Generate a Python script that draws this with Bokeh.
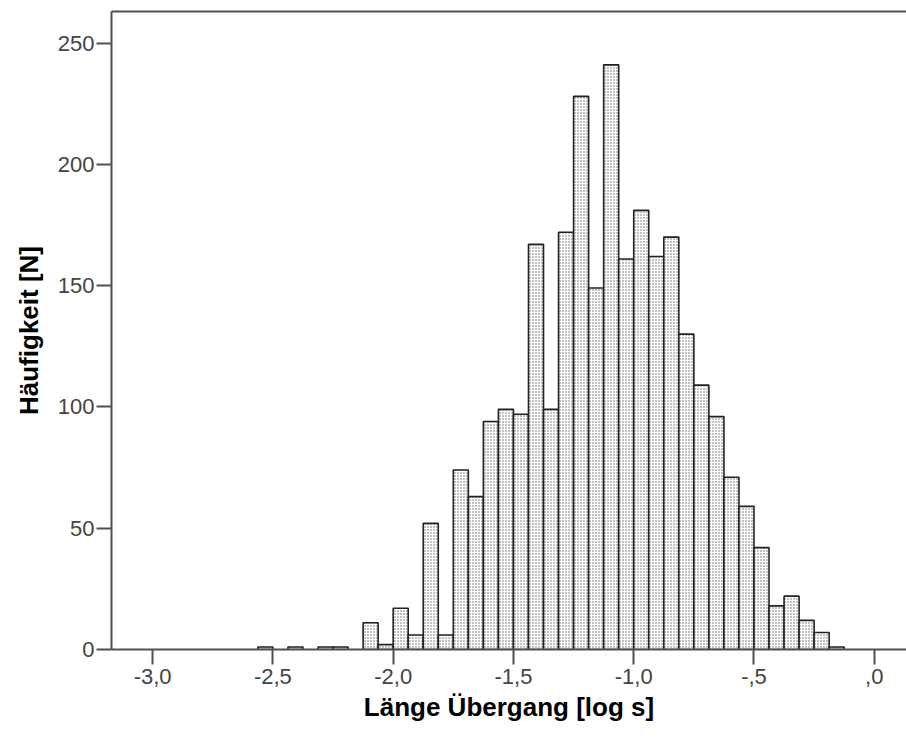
from bokeh.plotting import figure
from bokeh.models import Range1d, FixedTicker, LinearAxis, ColumnDataSource
from bokeh.embed import file_html
from bokeh.resources import INLINE

# histogram data (log10 of transition length), bin width 1/16
bin_width = 0.0625
bin_left = [-2.5625, -2.4375, -2.3125, -2.25, -2.125, -2.0625,
            -2.0, -1.9375, -1.875, -1.8125, -1.75, -1.6875, -1.625, -1.5625,
            -1.5, -1.4375, -1.375, -1.3125, -1.25, -1.1875, -1.125, -1.0625,
            -1.0, -0.9375, -0.875, -0.8125, -0.75, -0.6875, -0.625, -0.5625,
            -0.5, -0.4375, -0.375, -0.3125, -0.25, -0.1875]
counts = [1, 1, 1, 1, 11, 2,
          17, 6, 52, 6, 74, 63, 94, 99,
          97, 167, 99, 172, 228, 149, 241, 161,
          181, 162, 170, 130, 109, 96, 71, 59,
          42, 18, 22, 12, 7, 1]

x_ticks = [-3.0, -2.5, -2.0, -1.5, -1.0, -0.5, 0.0]
x_tick_labels = ["-3,0", "-2,5", "-2,0", "-1,5", "-1,0", "-,5", ",0"]
y_ticks = [0, 50, 100, 150, 200, 250]

x_title = "Länge Übergang [log s]"
y_title = "Häufigkeit [N]"

src = ColumnDataSource(data=dict(
    left=bin_left,
    right=[b + bin_width for b in bin_left],
    top=counts,
))

p = figure(width=906, height=742, output_backend="svg", toolbar_location=None,
           x_range=Range1d(-3.171, 0.134), y_range=Range1d(0, 263),
           min_border_left=111, min_border_right=0, min_border_top=11,
           min_border_bottom=93)

p.quad(left="left", right="right", bottom=0, top="top", source=src,
       fill_color="white", hatch_pattern="dot", hatch_color="#666666",
       hatch_scale=3, hatch_weight=1, line_color="#222222", line_width=1.6)

p.xgrid.grid_line_color = None
p.ygrid.grid_line_color = None
p.outline_line_color = None
p.background_fill_color = "white"
p.border_fill_color = "white"

axis_col = "#505050"
for ax in (p.xaxis[0], p.yaxis[0]):
    ax.axis_line_color = axis_col
    ax.axis_line_width = 2
    ax.major_tick_line_color = axis_col
    ax.major_tick_line_width = 2
    ax.major_tick_out = 15
    ax.major_tick_in = 0
    ax.minor_tick_line_color = None
    ax.major_label_text_font = "Liberation Sans"
    ax.major_label_text_font_size = "22px"
    ax.major_label_text_color = "#444444"
    ax.axis_label_text_font = "Liberation Sans"
    ax.axis_label_text_font_size = "26px"
    ax.axis_label_text_font_style = "bold"
    ax.axis_label_text_color = "#000000"

p.xaxis.ticker = FixedTicker(ticks=x_ticks)
p.xaxis.major_label_overrides = dict(zip(x_ticks, x_tick_labels))
p.xaxis.major_label_standoff = 4
p.xaxis.axis_label = x_title
p.xaxis.axis_label_standoff = 5

p.yaxis.ticker = FixedTicker(ticks=y_ticks)
p.yaxis.major_label_standoff = 2
p.yaxis.axis_label = y_title
p.yaxis.axis_label_standoff = 11

top_axis = LinearAxis(ticker=FixedTicker(ticks=[]), axis_line_color=axis_col,
                      axis_line_width=2, major_tick_line_color=None,
                      minor_tick_line_color=None,
                      major_label_text_font_size="0px")
p.add_layout(top_axis, "above")

open("out.html", "w").write(file_html(p, INLINE))
